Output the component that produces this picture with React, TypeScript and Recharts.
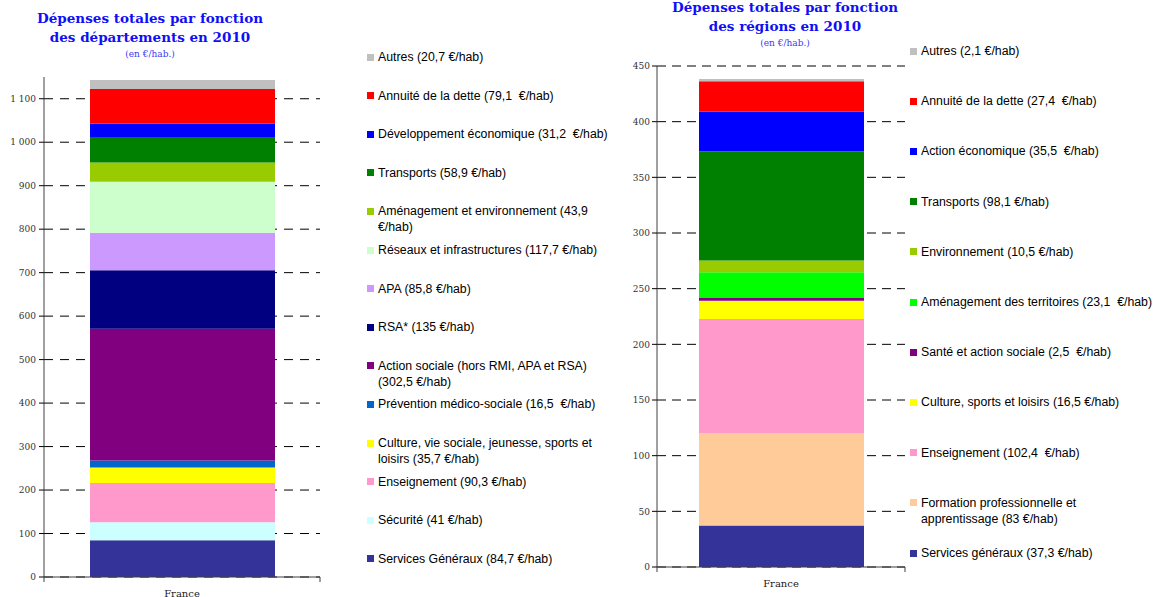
import React from 'react';
import { BarChart, Bar, XAxis, YAxis, CartesianGrid } from 'recharts';

// ---- Départements (bottom to top) ----
const deptLabels = [
  'Services Généraux (84,7 €/hab)',
  'Sécurité (41 €/hab)',
  'Enseignement (90,3 €/hab)',
  'Culture, vie sociale, jeunesse, sports et loisirs (35,7 €/hab)',
  'Prévention médico-sociale (16,5  €/hab)',
  'Action sociale (hors RMI, APA et RSA) (302,5 €/hab)',
  'RSA* (135 €/hab)',
  'APA (85,8 €/hab)',
  'Réseaux et infrastructures (117,7 €/hab)',
  'Aménagement et environnement (43,9 €/hab)',
  'Transports (58,9 €/hab)',
  'Développement économique (31,2  €/hab)',
  'Annuité de la dette (79,1  €/hab)',
  'Autres (20,7 €/hab)',
];
const deptValues = [84.7, 41, 90.3, 35.7, 16.5, 302.5, 135, 85.8, 117.7, 43.9, 58.9, 31.2, 79.1, 20.7];
const deptColors = ['#333399', '#CCFFFF', '#FF99CC', '#FFFF00', '#0066CC', '#800080', '#000080', '#CC99FF', '#CCFFCC', '#99CC00', '#008000', '#0000FF', '#FF0000', '#C0C0C0'];
const deptTicks = [0, 100, 200, 300, 400, 500, 600, 700, 800, 900, 1000, 1100];

// ---- Régions (bottom to top) ----
const regLabels = [
  'Services généraux (37,3 €/hab)',
  'Formation professionnelle et apprentissage (83 €/hab)',
  'Enseignement (102,4  €/hab)',
  'Culture, sports et loisirs (16,5 €/hab)',
  'Santé et action sociale (2,5  €/hab)',
  'Aménagement des territoires (23,1  €/hab)',
  'Environnement (10,5 €/hab)',
  'Transports (98,1 €/hab)',
  'Action économique (35,5  €/hab)',
  'Annuité de la dette (27,4  €/hab)',
  'Autres (2,1 €/hab)',
];
const regValues = [37.3, 83, 102.4, 16.5, 2.5, 23.1, 10.5, 98.1, 35.5, 27.4, 2.1];
const regColors = ['#333399', '#FFCC99', '#FF99CC', '#FFFF00', '#800080', '#00FF00', '#99CC00', '#008000', '#0000FF', '#FF0000', '#C0C0C0'];
const regTicks = [0, 50, 100, 150, 200, 250, 300, 350, 400, 450];

const category = 'France';

const buildRow = (values: number[]) => {
  const row: Record<string, number | string> = { name: category };
  values.forEach((v, i) => { row['s' + i] = v; });
  return [row];
};

const fmtThousands = (v: number) =>
  v >= 1000 ? `${Math.floor(v / 1000)} ${String(v % 1000).padStart(3, '0')}` : String(v);

const titleStyle: React.CSSProperties = {
  position: 'absolute',
  textAlign: 'center',
  fontFamily: '"DejaVu Serif", serif',
  fontWeight: 'bold',
  color: '#0f0ff5',
  fontSize: 13.5,
  lineHeight: '19px',
  whiteSpace: 'nowrap',
};
const subStyle: React.CSSProperties = {
  fontFamily: '"DejaVu Serif", serif',
  fontWeight: 'normal',
  fontSize: 9,
  lineHeight: '14px',
  color: '#3a3af0',
};

const tickFont = { fontFamily: '"DejaVu Serif", serif', fontSize: 9, fill: '#333' };

// Category tick: label centered, small marks at the category band edges
const OFFSET = 13; // tickSize + tickMargin of the x axis
function CategoryTick(props: any) {
  const { x, y, width, payload } = props;
  const axisY = y - OFFSET;
  const left = x - width / 2;
  const right = x + width / 2;
  return (
    <g>
      <line x1={left} x2={left} y1={axisY} y2={axisY + 5} stroke="#404040" />
      <line x1={right} x2={right} y1={axisY} y2={axisY + 5} stroke="#404040" />
      <text x={x} y={y} dy="0.71em" textAnchor="middle" fontFamily='"DejaVu Serif", serif' fontSize={10} fill="#222">
        {payload.value}
      </text>
    </g>
  );
}

function Legend({ labels, colors, left, top0, step, width }: { labels: string[]; colors: string[]; left: number; top0: number; step: number; width: number }) {
  const items = labels.map((l, i) => ({ l, c: colors[i] })).reverse();
  return (
    <>
      {items.map((it, i) => (
        <div
          key={i}
          style={{
            position: 'absolute',
            left,
            top: top0 + i * step - 8,
            display: 'flex',
            alignItems: 'flex-start',
            fontFamily: '"Liberation Sans", Arial, sans-serif',
            fontSize: 12.3,
            lineHeight: '16px',
            color: '#000',
          }}
        >
          <span style={{ display: 'inline-block', width: 7, height: 7, background: it.c, marginTop: 4.5, marginRight: 4, flex: 'none' }} />
          <span style={{ width, whiteSpace: 'pre-wrap' }}>{it.l}</span>
        </div>
      ))}
    </>
  );
}

export default function App() {
  const deptData = buildRow(deptValues);
  const regData = buildRow(regValues);
  return (
    <div style={{ position: 'absolute', left: 0, top: 0, width: 1155, height: 597, background: '#fff', overflow: 'hidden' }}>
      {/* Left title */}
      <div style={{ ...titleStyle, left: 0, width: 300, top: 9 }}>
        Dépenses totales par fonction<br />des départements en 2010
        <div style={subStyle}>(en €/hab.)</div>
      </div>
      {/* Right title */}
      <div style={{ ...titleStyle, left: 635, width: 300, top: -2 }}>
        Dépenses totales par fonction<br />des régions en 2010
        <div style={subStyle}>(en €/hab.)</div>
      </div>

      <div style={{ position: 'absolute', left: 0, top: 0 }}>
        <BarChart width={330} height={597} data={deptData} margin={{ top: 77, right: 10, bottom: 0, left: 0 }}>
          <CartesianGrid vertical={false} horizontalValues={deptTicks} stroke="#000" strokeDasharray="9 7" />
          <XAxis dataKey="name" height={20} tickLine={false} axisLine={{ stroke: '#404040' }} tickSize={6} tickMargin={7}
            tick={<CategoryTick />} />
          <YAxis width={44} domain={[0, 1150]} ticks={deptTicks} interval={0} tickFormatter={fmtThousands}
            axisLine={{ stroke: '#404040' }} tickLine={{ stroke: '#000' }} tickSize={5} tickMargin={3}
            tick={tickFont} />
          {deptValues.map((_, i) => (
            <Bar key={i} dataKey={'s' + i} stackId="a" fill={deptColors[i]} barSize={185} isAnimationActive={false} />
          ))}
        </BarChart>
      </div>

      <div style={{ position: 'absolute', left: 610, top: 0 }}>
        <BarChart width={300} height={597} data={regData} margin={{ top: 66, right: 5, bottom: 0, left: 0 }}>
          <CartesianGrid vertical={false} horizontalValues={regTicks} stroke="#000" strokeDasharray="9 6" />
          <XAxis dataKey="name" height={30} tickLine={false} axisLine={{ stroke: '#404040' }} tickSize={6} tickMargin={7}
            tick={<CategoryTick />} />
          <YAxis width={47} domain={[0, 450]} ticks={regTicks} interval={0}
            axisLine={{ stroke: '#404040' }} tickLine={{ stroke: '#000' }} tickSize={5} tickMargin={2}
            tick={tickFont} />
          {regValues.map((_, i) => (
            <Bar key={i} dataKey={'s' + i} stackId="b" fill={regColors[i]} barSize={165} isAnimationActive={false} />
          ))}
        </BarChart>
      </div>

      <Legend labels={deptLabels} colors={deptColors} left={367} top0={57} step={38.6} width={232} />
      <Legend labels={regLabels} colors={regColors} left={910} top0={51} step={50.2} width={233} />
    </div>
  );
}
